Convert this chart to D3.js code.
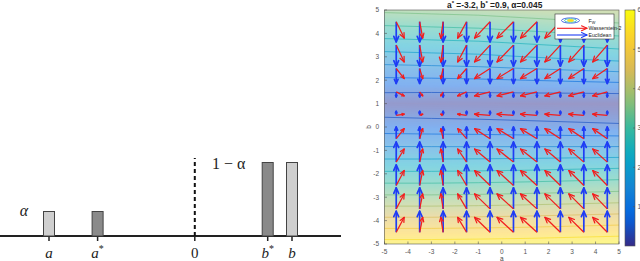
<!DOCTYPE html>
<html>
<head>
<meta charset="utf-8">
<script src="https://cdn.jsdelivr.net/npm/d3@7"></script>
<style>
body { margin: 0; background: #fff; }
</style>
</head>
<body>
<script>

let width = 640;
let height = 261;

// left sketch: two discrete measures on a line
let pointNames = ["a", "a*", "0", "b*", "b"];
let pointPos = [-1.5, -1, 0, 0.75, 1];
let barPos = [-1.5, -1, 0.75, 1];
let barMass = [0.25, 0.25, 0.75, 0.75];
let barKind = ["target", "model", "model", "target"];
let massLabels = ["α", "1 − α"];

// right plot: F_W surface sampled on a coarse grid (rows: b from 5 to -5)
let gridA = [-5, -3, -1, 1, 3, 5];
let gridB = [5, 4, 3, 2, 1, 0, -1, -2, -3, -4, -5];
let fieldRows = [
    [3.6, 3.65, 3.7, 3.8, 3.9, 4.0],
    [2.7, 2.75, 2.8, 2.9, 3.0, 3.1],
    [1.8, 1.85, 1.9, 2.0, 2.1, 2.2],
    [0.9, 0.92, 0.95, 1.0, 1.05, 1.1],
    [0.15, 0.12, 0.1, 0.08, 0.06, 0.05],
    [0.75, 0.72, 0.7, 0.66, 0.62, 0.58],
    [1.65, 1.65, 1.65, 1.66, 1.67, 1.68],
    [2.6, 2.6, 2.62, 2.65, 2.7, 2.75],
    [3.6, 3.6, 3.62, 3.66, 3.7, 3.75],
    [4.65, 4.65, 4.67, 4.7, 4.75, 4.8],
    [5.7, 5.7, 5.72, 5.75, 5.8, 5.85]
];
let contourLevels = [0.5, 1.0, 1.5, 2.0, 2.5, 3.0, 3.5, 4.0, 4.5, 5.0, 5.5];

// gradient arrows (tail positions and components in data units)
let arrowA = [-4.5, -3.5, -2.5, -1.5, -0.5, 0.5, 1.5, 2.5, 3.5, 4.5];
let arrowB = [4.5, 3.5, 2.5, 1.5, 0.5, -0.5, -1.5, -2.5, -3.5, -4.5];
let redU = [0.34, 0.13, -0.1, -0.38, -0.66, -0.7, -0.7, -0.66, -0.64, -0.62];
let redV = [-0.7, -0.72, -0.43, -0.17, 0.05, 0.43, 0.56, 0.64, 0.64, 0.64];
let blueV = [-0.86, -0.9, -0.64, -0.21, 0.17, 0.5, 0.86, 0.88, 0.9, 0.9];

let axisTicks = [-5, -4, -3, -2, -1, 0, 1, 2, 3, 4, 5];
let colorTicks = [1, 2, 3, 4, 5, 6];
let titleParts = [["a", ""], ["*", "sup"], [" =-3.2, b", ""], ["*", "sup"], [" =0.9, α=0.045", ""]];
let legendNames = ["F", "Wasserstein-2", "Euclidean"];

let parula = d3.piecewise(d3.interpolateRgb, [
    "#352a87", "#0363e1", "#1485d4", "#06a7c6", "#38b99e",
    "#92bf73", "#d9ba56", "#fcce2e", "#f9fb0e"
]);
let colorScale = d3.scaleSequential(parula).domain([0, 6]);

let svg = d3.select("body").append("svg")
    .attr("width", width)
    .attr("height", height);

// ---------- left sketch ----------
let xL = d3.scaleLinear().domain([-1.5, 1]).range([49, 292]);
let yL = d3.scaleLinear().domain([0, 1]).range([236, 138]);
let kindFill = { target: "#cfcfcf", model: "#8a8a8a" };

let left = svg.append("g").attr("font-family", "Liberation Serif");

left.append("line")
    .attr("x1", 0).attr("x2", 341)
    .attr("y1", yL(0)).attr("y2", yL(0))
    .attr("stroke", "#222").attr("stroke-width", 2);

left.selectAll("line.tick")
    .data(pointPos)
    .enter()
    .append("line")
    .attr("class", "tick")
    .attr("x1", d => xL(d)).attr("x2", d => xL(d))
    .attr("y1", yL(0)).attr("y2", yL(0) + 5)
    .attr("stroke", "#222").attr("stroke-width", 1.5);

left.append("line")
    .attr("x1", xL(0)).attr("x2", xL(0))
    .attr("y1", yL(0)).attr("y2", 158)
    .attr("stroke", "#111").attr("stroke-width", 2)
    .attr("stroke-dasharray", "4,3");

left.selectAll("rect")
    .data(barPos)
    .enter()
    .append("rect")
    .attr("x", d => xL(d) - 5.5)
    .attr("width", 11)
    .attr("y", (d, i) => yL(barMass[i]))
    .attr("height", (d, i) => yL(0) - yL(barMass[i]))
    .attr("fill", (d, i) => kindFill[barKind[i]])
    .attr("stroke", "#444").attr("stroke-width", 1);

let tickText = left.selectAll("text.lab")
    .data(pointNames)
    .enter()
    .append("text")
    .attr("class", "lab")
    .attr("x", (d, i) => xL(pointPos[i]))
    .attr("y", 258)
    .attr("text-anchor", "middle")
    .attr("font-size", 15)
    .attr("fill", "#222");
tickText.append("tspan")
    .attr("font-style", d => d === "0" ? "normal" : "italic")
    .text(d => d[0]);
tickText.filter(d => d.length > 1).append("tspan")
    .attr("font-size", 10)
    .attr("dy", -6)
    .text(d => d.slice(1));

left.append("text")
    .attr("x", 24).attr("y", 216)
    .attr("text-anchor", "middle")
    .attr("font-size", 16).attr("font-style", "italic")
    .attr("fill", "#222")
    .text(massLabels[0]);
left.append("text")
    .attr("x", 212).attr("y", 169)
    .attr("font-size", 16)
    .attr("fill", "#222")
    .text(massLabels[1]);

// ---------- right plot ----------
let x = d3.scaleLinear().domain([-5, 5]).range([384.5, 619]);
let y = d3.scaleLinear().domain([-5, 5]).range([244, 10]);

let right = svg.append("g").attr("font-family", "Liberation Sans");

right.append("clipPath").attr("id", "plotClip")
    .append("rect")
    .attr("x", x(-5)).attr("y", y(5))
    .attr("width", x(5) - x(-5)).attr("height", y(-5) - y(5));

let plot = right.append("g").attr("clip-path", "url(#plotClip)");

let values = fieldRows.flat();
let stepA = gridA[1] - gridA[0];
let stepB = gridB[0] - gridB[1];
let gridPath = d3.geoPath(d3.geoTransform({
    point: function (gx, gy) {
        this.stream.point(x(gridA[0] + (gx - 0.5) * stepA), y(gridB[0] - (gy - 0.5) * stepB));
    }
}));

let bandLevels = d3.range(0, 6, 0.05);
let bands = d3.contours().size([gridA.length, gridB.length]).thresholds(bandLevels)(values);
plot.selectAll("path.band")
    .data(bands)
    .enter()
    .append("path")
    .attr("class", "band")
    .attr("d", gridPath)
    .attr("fill", d => d3.interpolateRgb(colorScale(d.value + 0.025), "#fff")(0.5));

let lines = d3.contours().size([gridA.length, gridB.length]).thresholds(contourLevels)(values);
plot.selectAll("path.level")
    .data(lines)
    .enter()
    .append("path")
    .attr("class", "level")
    .attr("d", gridPath)
    .attr("fill", "none")
    .attr("stroke", d => colorScale(d.value))
    .attr("stroke-opacity", 0.7)
    .attr("stroke-width", 0.9);

function arrow(g, x0, y0, x1, y1, color, w) {
    let dx = x1 - x0, dy = y1 - y0;
    let len = Math.hypot(dx, dy);
    let ang = Math.atan2(dy, dx);
    let hl = Math.max(1.8, Math.min(6, len * 0.3));
    g.append("line")
        .attr("x1", x0).attr("y1", y0).attr("x2", x1).attr("y2", y1)
        .attr("stroke", color).attr("stroke-width", w);
    [-0.42, 0.42].forEach(function (da) {
        g.append("line")
            .attr("x1", x1).attr("y1", y1)
            .attr("x2", x1 - hl * Math.cos(ang + da))
            .attr("y2", y1 - hl * Math.sin(ang + da))
            .attr("stroke", color).attr("stroke-width", w)
            .attr("stroke-linecap", "round");
    });
}

let quiver = plot.append("g");
arrowB.forEach(function (b, j) {
    arrowA.forEach(function (a, i) {
        arrow(quiver, x(a), y(b), x(a), y(b + blueV[j]), "#1f3df5", 1.7);
    });
});
arrowB.forEach(function (b, j) {
    arrowA.forEach(function (a, i) {
        arrow(quiver, x(a), y(b), x(a + redU[i]), y(b + redV[j]), "#f21d1d", 1.25);
    });
});

// axes box with inward ticks
right.append("rect")
    .attr("x", x(-5)).attr("y", y(5))
    .attr("width", x(5) - x(-5)).attr("height", y(-5) - y(5))
    .attr("fill", "none").attr("stroke", "#555").attr("stroke-width", 0.6);

right.selectAll("line.xt")
    .data(axisTicks)
    .enter()
    .append("line")
    .attr("class", "xt")
    .attr("x1", d => x(d)).attr("x2", d => x(d))
    .attr("y1", y(-5)).attr("y2", y(-5) - 2.5)
    .attr("stroke", "#555").attr("stroke-width", 0.6);
right.selectAll("line.yt")
    .data(axisTicks)
    .enter()
    .append("line")
    .attr("class", "yt")
    .attr("x1", x(-5)).attr("x2", x(-5) + 2.5)
    .attr("y1", d => y(d)).attr("y2", d => y(d))
    .attr("stroke", "#555").attr("stroke-width", 0.6);

right.selectAll("text.xl")
    .data(axisTicks)
    .enter()
    .append("text")
    .attr("class", "xl")
    .attr("x", d => x(d)).attr("y", 254)
    .attr("text-anchor", "middle")
    .attr("font-size", 6.5).attr("fill", "#555")
    .text(d => d);
right.selectAll("text.yl")
    .data(axisTicks)
    .enter()
    .append("text")
    .attr("class", "yl")
    .attr("x", 379).attr("y", d => y(d) + 2.3)
    .attr("text-anchor", "end")
    .attr("font-size", 6.5).attr("fill", "#555")
    .text(d => d);

right.append("text")
    .attr("x", x(0)).attr("y", 260.5)
    .attr("text-anchor", "middle")
    .attr("font-size", 6.5).attr("fill", "#444")
    .text("a");
right.append("text")
    .attr("transform", "translate(371," + y(0) + ") rotate(-90)")
    .attr("text-anchor", "middle")
    .attr("font-size", 6.5).attr("fill", "#444")
    .text("b");

let title = right.append("text")
    .attr("x", 447).attr("y", 8)
    .attr("font-size", 8.4).attr("font-weight", "bold").attr("fill", "#222");
titleParts.forEach(function (p) {
    let t = title.append("tspan").text(p[0]);
    if (p[1] === "sup") t.attr("font-size", 6).attr("dy", -2.7);
    else t.attr("dy", 0);
});
title.selectAll("tspan").filter((d, i, n) => i > 0 && titleParts[i - 1][1] === "sup").attr("dy", 2.7);

// legend
let leg = right.append("g");
leg.append("rect")
    .attr("x", 555).attr("y", 14).attr("width", 59).attr("height", 25)
    .attr("fill", "#fff").attr("stroke", "#333").attr("stroke-width", 0.6);
[[9, 2.6, "#3a5ce0"], [6, 1.7, "#3fc0b0"], [3, 0.9, "#f5e020"]].forEach(function (e) {
    leg.append("ellipse")
        .attr("cx", 570.5).attr("cy", 20.5).attr("rx", e[0]).attr("ry", e[1])
        .attr("fill", e[2] === "#f5e020" ? e[2] : "none")
        .attr("stroke", e[2]).attr("stroke-width", 0.9);
});
arrow(leg, 557, 28.3, 587, 28.3, "#f21d1d", 1.1);
arrow(leg, 557, 35, 587, 35, "#1f3df5", 1.1);
let legY = [22.5, 30.3, 37];
legendNames.forEach(function (name, i) {
    let t = leg.append("text")
        .attr("x", 588.5).attr("y", legY[i])
        .attr("font-size", 5.2).attr("fill", "#222")
        .text(name);
    if (i === 0) t.append("tspan").attr("font-size", 3.8).attr("dy", 1.3).text("W");
});

// colorbar
let yC = d3.scaleLinear().domain([0, 6]).range([246, 10]);
let defs = svg.append("defs");
let grad = defs.append("linearGradient").attr("id", "parulaGrad")
    .attr("x1", 0).attr("y1", 1).attr("x2", 0).attr("y2", 0);
d3.range(0, 1.001, 0.05).forEach(function (t) {
    grad.append("stop").attr("offset", t).attr("stop-color", parula(t));
});
right.append("rect")
    .attr("x", 625).attr("y", yC(6)).attr("width", 10).attr("height", yC(0) - yC(6))
    .attr("fill", "url(#parulaGrad)")
    .attr("stroke", "#555").attr("stroke-width", 0.6);
right.selectAll("line.ct")
    .data(colorTicks)
    .enter()
    .append("line")
    .attr("class", "ct")
    .attr("x1", 633).attr("x2", 635)
    .attr("y1", d => yC(d)).attr("y2", d => yC(d))
    .attr("stroke", "#555").attr("stroke-width", 0.6);
right.selectAll("text.cl")
    .data(colorTicks)
    .enter()
    .append("text")
    .attr("class", "cl")
    .attr("x", 637.5).attr("y", d => yC(d) + 2.3)
    .attr("font-size", 6.5).attr("fill", "#555")
    .text(d => d);

</script>
</body>
</html>
